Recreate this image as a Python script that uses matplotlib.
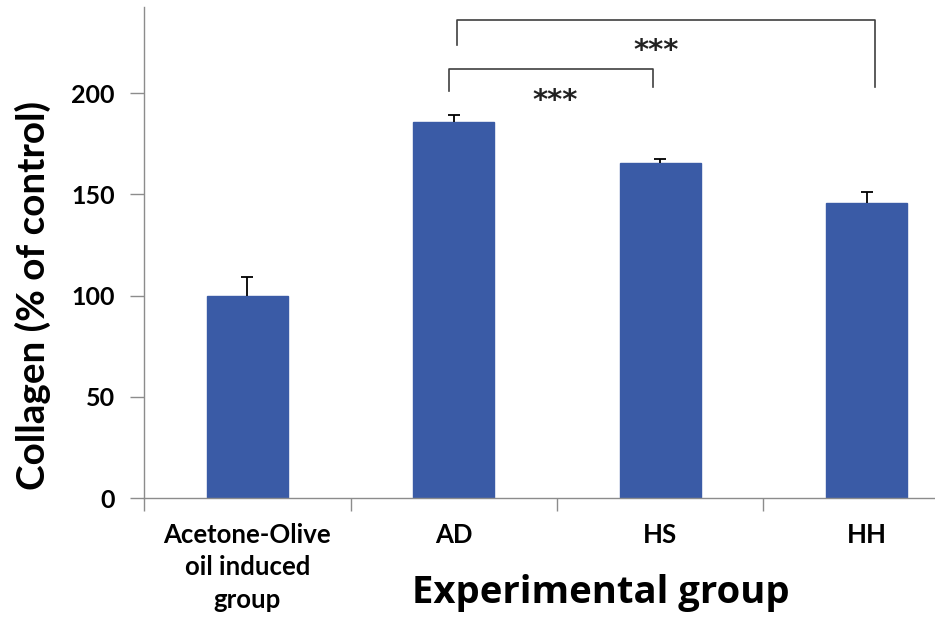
import matplotlib
matplotlib.use("Agg")
import matplotlib.pyplot as plt

plt.rcParams['font.family'] = ['Lato', 'DejaVu Sans']

# Collagen content per experimental group (% of control)
groups = ["Acetone-Olive\noil induced\ngroup", "AD", "HS", "HH"]
collagen = [100.0, 185.7, 165.7, 145.9]
sem = [9.1, 3.6, 1.8, 5.5]

# Significance comparisons: (group a, group b, label)
comparisons = [("AD", "HS", "***"), ("AD", "HH", "***")]

bar_color = "#3A5BA6"
axis_color = "#8C8C8C"

fig = plt.figure(figsize=(9.35, 6.24), dpi=100)
ax = fig.add_axes([144 / 935, 126 / 624, 826 / 935, 491 / 624])

x = list(range(len(groups)))
ax.bar(x, collagen, width=0.39, color=bar_color, edgecolor=bar_color, zorder=2)
_, caps, _ = ax.errorbar(x, collagen, yerr=[[0] * len(sem), sem], fmt="none",
                         ecolor="black", elinewidth=1.3, capsize=4.5,
                         capthick=1.3, zorder=3)
# upper error bars only: hide the cap sitting on the bar top
caps[0].set_visible(False)

ax.set_xlim(-0.5, len(groups) - 0.5)
ax.set_ylim(0, 242.6)

# Axes styling
for side in ("top", "right"):
    ax.spines[side].set_visible(False)
for side in ("left", "bottom"):
    ax.spines[side].set_color(axis_color)
    ax.spines[side].set_linewidth(1.0)

ax.set_yticks([0, 50, 100, 150, 200])
ax.tick_params(axis="y", direction="out", length=10, width=1.0, color=axis_color,
               pad=11, labelsize=18)
for lbl in ax.get_yticklabels():
    lbl.set_fontweight("bold")

# Category boundaries carry the tick marks, labels sit at the bar centres
ax.set_xticks([i - 0.5 for i in range(len(groups) + 1)])
ax.set_xticklabels([])
ax.tick_params(axis="x", direction="out", length=9, width=1.0, color=axis_color)
for i, name in enumerate(groups):
    ax.annotate(name, xy=(i, 0), xycoords=("data", "axes fraction"),
                xytext=(0, -18), textcoords="offset points",
                ha="center", va="top", fontsize=18.5, fontweight="bold",
                linespacing=1.42)

ax.set_ylabel("Collagen (% of control)", fontsize=27.8, fontweight="bold")
ax.yaxis.set_label_coords(-0.113, 0.413)

fig.text(601 / 935, 31 / 624, "Experimental group", ha="center", va="center",
         fontsize=27.5, fontweight="bold", family=["Open Sans", "DejaVu Sans"])

# Significance brackets
pos = {g.split("\n")[0]: i for i, g in enumerate(groups)}
bracket_specs = [
    # left x, right x, top y, left foot, right foot, star x, star y
    (pos["AD"] - 0.024, pos["HS"] - 0.036, 212.0, 201.3, 203.3, 1.49, 196.0),
    (pos["AD"] + 0.015, pos["HH"] + 0.04, 236.2, 223.9, 203.0, 1.98, 221.0),
]
for (a, b, lab), (x1, x2, ytop, yl, yr, sx, sy) in zip(comparisons, bracket_specs):
    ax.plot([x1, x1, x2, x2], [yl, ytop, ytop, yr], color="#404040",
            linewidth=1.2, clip_on=False, zorder=4)
    ax.text(sx, sy, lab, ha="center", va="center", fontsize=21,
            fontweight="bold", color="#222222", family=["DejaVu Sans"])

fig.savefig("out.png", dpi=100)
